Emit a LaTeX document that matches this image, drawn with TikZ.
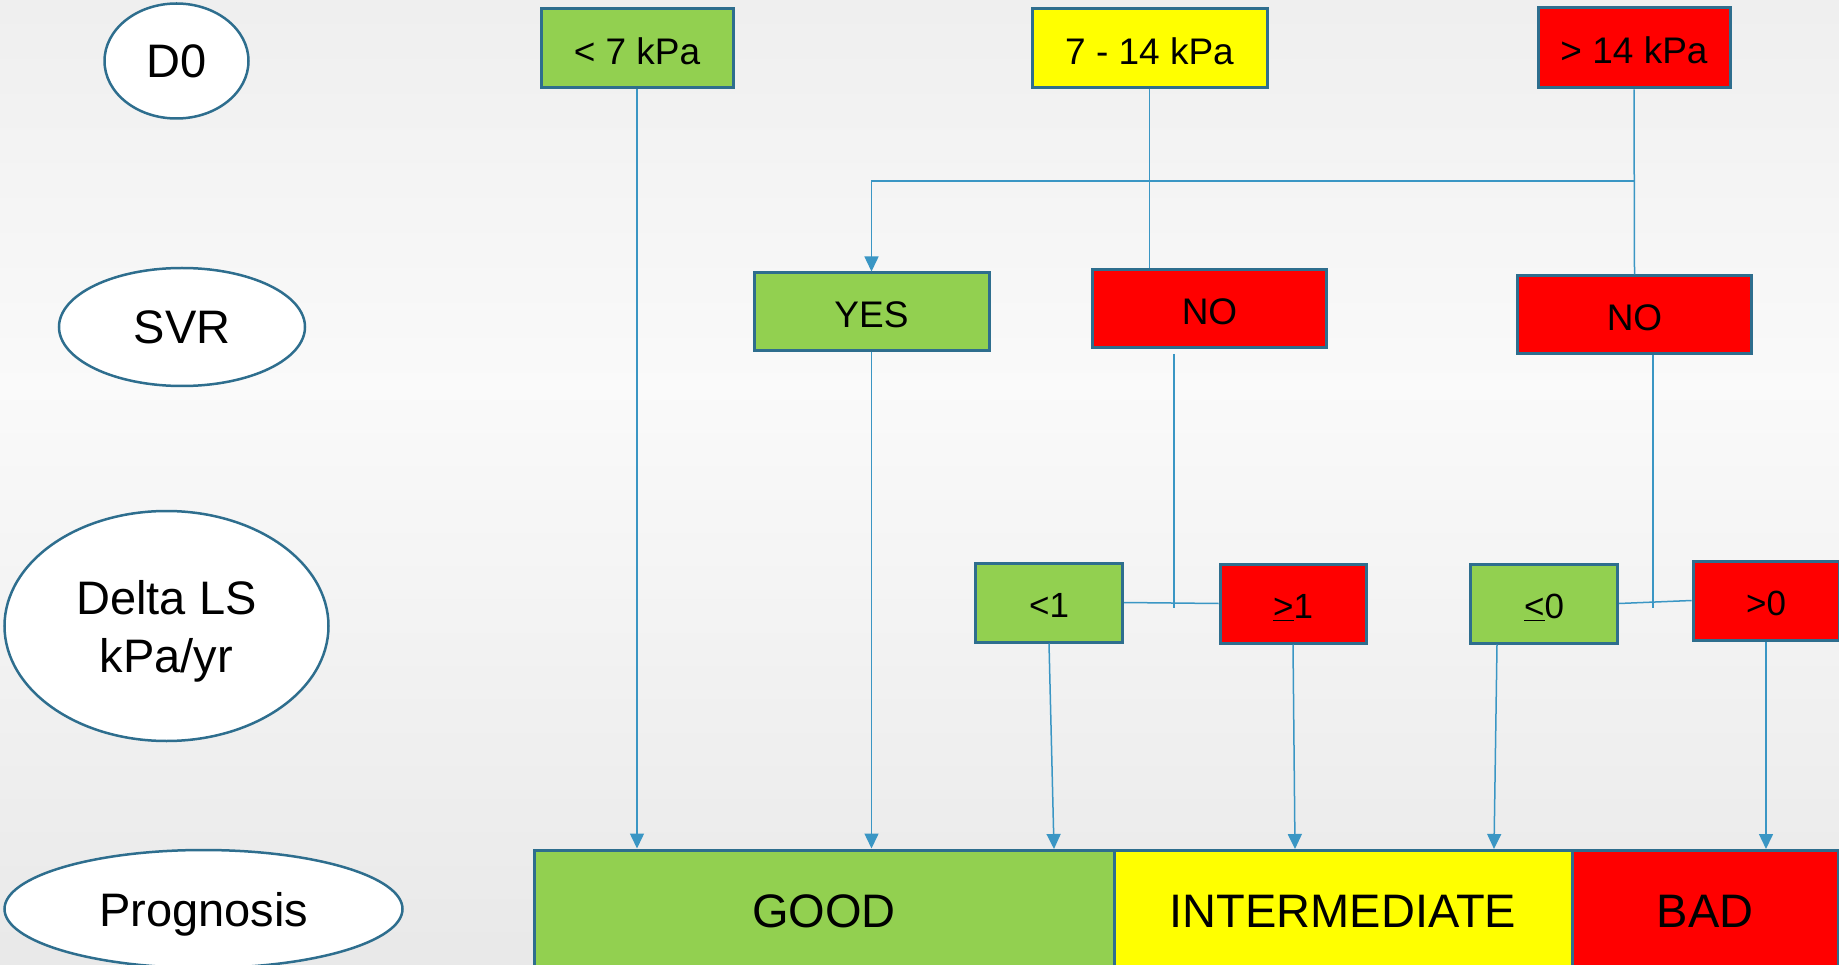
\documentclass[tikz,border=0pt]{standalone}
\usepackage{fontspec}
\setmainfont{Liberation Sans}
\usetikzlibrary{arrows.meta,shapes.geometric}
\definecolor{gr}{RGB}{146,208,80}
\definecolor{ye}{RGB}{255,255,0}
\definecolor{rd}{RGB}{255,0,0}
\definecolor{bd}{RGB}{46,110,142}
\definecolor{cn}{RGB}{58,150,196}
\definecolor{bgT}{RGB}{225,225,225}
\definecolor{bgB}{RGB}{218,218,218}
\pgfdeclareverticalshading{bgshade}{100bp}{color(0bp)=(bgB); color(55bp)=(white!98!black); color(100bp)=(bgT)}
\tikzset{
  box/.style={draw=bd, line width=3pt, rectangle, inner sep=0pt, text=black},
  boxA/.style={box, font=\fontsize{37}{44}\selectfont, text height=31.5pt, text depth=0pt},
  boxB/.style={box, font=\fontsize{35}{42}\selectfont, minimum height=79pt, text height=30pt, text depth=0pt},
  boxC/.style={box, font=\fontsize{47}{56}\selectfont, minimum height=122pt},
  lab/.style={draw=bd, line width=2.5pt, fill=white, ellipse, inner sep=0pt, align=center, text depth=0pt, font=\fontsize{47}{58}\selectfont},
  conn/.style={draw=cn, line width=1.5pt},
  arr/.style={conn, -{Triangle[length=15pt,width=14pt]}}
}
\begin{document}
\begin{tikzpicture}[x=1pt,y=-1pt]
\useasboundingbox (0,0) rectangle (1839,965);
\clip (0,0) rectangle (1839,965);
\shade[shading=bgshade] (0,0) rectangle (1839,965);

% left labels
\node[lab, minimum width=144pt, minimum height=115pt] (lD0) at (176.5,61) {D0};
\node[lab, minimum width=246pt, minimum height=118pt] (lSVR) at (182,327) {SVR};
\node[lab, minimum width=324pt, minimum height=230pt] (lDLS) at (166.5,626) {Delta LS\\kPa/yr};
\node[lab, minimum width=398pt, minimum height=118pt] (lPro) at (203.5,909) {Prognosis};

% D0 row
\node[boxA, fill=gr, minimum width=192pt, minimum height=79pt] (lt7) at (637,48.5) {< 7 kPa};
\node[boxA, fill=ye, minimum width=235pt, minimum height=79pt] (mid) at (1149.5,48.5) {7 - 14 kPa};
\node[boxA, fill=rd, minimum width=192pt, minimum height=80pt] (hi) at (1634,48) {> 14 kPa};

% SVR row
\node[boxA, fill=gr, minimum width=235pt, minimum height=78pt] (yes) at (871.5,312) {YES};
\node[boxA, fill=rd, minimum width=234pt, minimum height=78pt] (no1) at (1209.5,309) {NO};
\node[boxA, fill=rd, minimum width=234pt, minimum height=78pt] (no2) at (1634.5,315) {NO};

% Delta LS row
\node[boxB, fill=gr, minimum width=147pt] (d1) at (1049,602.5) {<1};
\node[boxB, fill=rd, minimum width=146pt] (d2) at (1293,603.5) {\underline{>}1};
\node[boxB, fill=gr, minimum width=147pt] (d3) at (1544,603.5) {\underline{<}0};
\node[boxB, fill=rd, minimum width=146pt] (d4) at (1766,600.5) {>0};

% Prognosis row
\node[boxC, fill=gr, minimum width=580pt] (good) at (824,911) {GOOD};
\node[boxC, fill=ye, minimum width=458pt] (inter) at (1343,911) {INTERMEDIATE};
\node[boxC, fill=rd, minimum width=266pt] (bad) at (1705,911) {BAD};

% helper coordinates
\coordinate (br) at (1634,181);
\coordinate (n1s) at (1174,354);
\coordinate (n1e) at (1174,608);
\coordinate (n2s) at (1653,355);
\coordinate (n2e) at (1653,608);
\coordinate (gC) at (1054,849);
\coordinate (iA) at (1295,849);
\coordinate (iB) at (1494,849);
\coordinate (bA) at (1766,849);

% connectors
\draw[arr] (lt7.south) -- (lt7.south |- good.north);
\draw[conn] (mid.south) -- (mid.south |- no1.north);
\draw[conn] (hi.south) -- (no2.north);
\draw[arr] (br) -| (yes.north);
\draw[arr] (yes.south) -- (yes.south |- good.north);
\draw[conn] (n1s) -- (n1e);
\draw[conn] (d1.east) -- (d2.west);
\draw[conn] (n2s) -- (n2e);
\draw[conn] (d3.east) -- (d4.west);
\draw[arr] (d1.south) -- (gC);
\draw[arr] (d2.south) -- (iA);
\draw[arr] ([xshift=-47pt]d3.south) -- (iB);
\draw[arr] (d4.south) -- (bA);
\end{tikzpicture}
\end{document}
